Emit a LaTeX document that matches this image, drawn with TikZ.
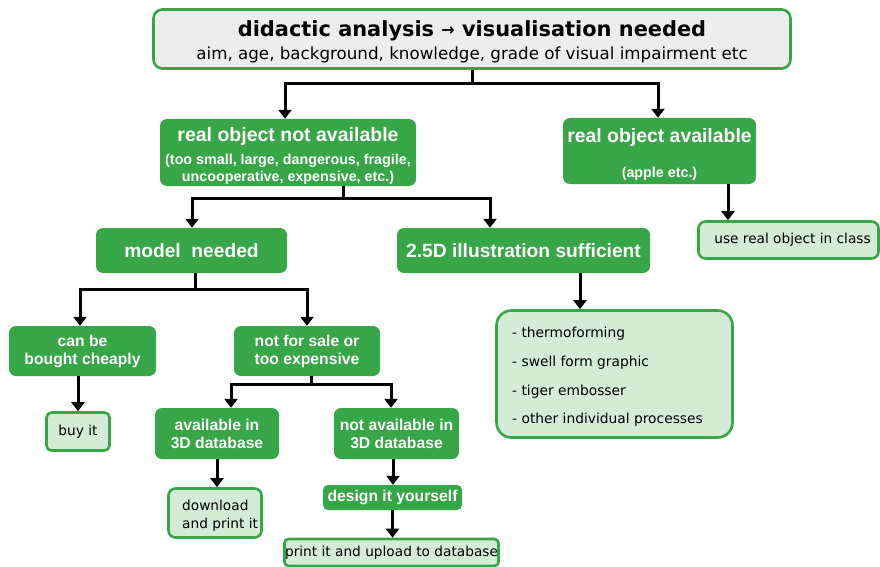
\documentclass[tikz,border=0pt]{standalone}
\usepackage{fontspec}
\setmainfont{Liberation Sans}
\newfontfamily\dv{DejaVu Sans}
\usetikzlibrary{arrows.meta}
\definecolor{dg}{HTML}{36A646}
\definecolor{lg}{HTML}{D4ECD6}
\definecolor{tg}{HTML}{EDEDED}
\newcommand{\fs}[2]{\fontsize{#1}{#2}\selectfont}
\begin{document}
\begin{tikzpicture}[x=1pt,y=-1pt,
  gbox/.style={fill=dg, rounded corners=7pt, text=white, inner sep=0pt, align=center},
  lbox/.style={fill=lg, draw=dg, line width=2.6pt, rounded corners=7pt, text=black, inner sep=0pt, align=center},
  txt/.style={inner sep=0pt, align=center},
  conn/.style={line width=3pt, draw=black},
  arr/.style={conn, -{Triangle[width=13pt,length=9pt]}}]
\useasboundingbox (0,0) rectangle (880,567);
% title
\node[lbox, fill=tg, rounded corners=9pt, minimum width=637pt, minimum height=59pt] (title) at (472,39) {};
\node[txt, font=\dv\fs{16.7}{23}] (title-t) at ([yshift=-2.5pt]title.center)
 {{\fs{20.9}{23}\bfseries didactic analysis {\fs{16}{23}\raisebox{1pt}{→}} visualisation needed}\\
  aim, age, background, knowledge, grade of visual impairment etc};
% level 1
\node[gbox, minimum width=256pt, minimum height=67pt] (rona) at (288,152.5) {};
\node[txt, text=white, font=\bfseries\fs{14.3}{17}] (rona-t) at ([yshift=-3pt]rona.center)
 {{\fs{19.5}{20}real object not available}\\[6pt]
  (too small, large, dangerous, fragile,\\
  uncooperative, expensive, etc.)};
\node[gbox, minimum width=193pt, minimum height=66pt] (ra) at (659.5,151) {};
\node[txt, text=white, font=\bfseries\fs{14.3}{17}] (ra-t) at ([yshift=-3pt]ra.center)
 {{\fs{19.4}{20}real object available}\\[18pt]
  (apple etc.)};
\node[lbox, minimum width=180pt, minimum height=37pt, font=\dv\fs{13.7}{16}] (use) at (788.5,240)
 {\hspace*{8pt}use real object in class};
% level 2
\node[gbox, minimum width=191pt, minimum height=45pt, font=\bfseries\fs{19.2}{20}] (model) at (191.5,250.5)
 {model\ \ needed};
\node[gbox, minimum width=253pt, minimum height=45pt, font=\bfseries\fs{19.2}{20}] (ill) at (523.5,250.5)
 {2.5D illustration sufficient};
\node[lbox, rounded corners=15pt, minimum width=236pt, minimum height=127pt] (list) at (614.5,374) {};
\node[anchor=west, align=left, inner sep=0pt, font=\dv\fs{13.8}{28.7}] (list-t) at (512,377)
 {- thermoforming\\- swell form graphic\\- tiger embosser\\- other individual processes};
% level 3
\node[gbox, minimum width=147pt, minimum height=50pt, font=\bfseries\fs{15.7}{18}] (cheap) at (82.5,351)
 {can be\\bought cheaply};
\node[gbox, minimum width=146pt, minimum height=50pt, font=\bfseries\fs{15.7}{18}] (sale) at (307,351)
 {not for sale or\\too expensive};
\node[lbox, rounded corners=5pt, minimum width=63pt, minimum height=38pt, font=\dv\fs{13.7}{16}] (buy) at (78,431.5)
 {buy it};
% level 4
\node[gbox, minimum width=124pt, minimum height=51pt, font=\bfseries\fs{15.7}{18}] (avail) at (217,433.5)
 {available in\\3D database};
\node[gbox, minimum width=125pt, minimum height=51pt, font=\bfseries\fs{15.7}{18}] (navail) at (396.5,433.5)
 {not available in\\3D database};
\node[lbox, minimum width=93pt, minimum height=49pt] (down) at (215,513) {};
\node[anchor=west, align=left, inner sep=0pt, font=\dv\fs{13.7}{18}] (down-t) at (182,515.5)
 {download\\and print it};
\node[gbox, rounded corners=5pt, minimum width=139pt, minimum height=25pt, font=\bfseries\fs{15.7}{18}] (design) at (392.5,497.5)
 {design it yourself};
\node[lbox, rounded corners=4pt, minimum width=214pt, minimum height=27pt, font=\dv\fs{13.7}{16}] (print) at (391.5,552.5)
 {print it and upload to database};
% junction coordinates
\coordinate (j1) at (472,84);
\coordinate (j2) at (343,198);
\coordinate (j3) at (195,289);
\coordinate (j4) at (311,384);
\coordinate (rasrc) at (728,184);
\coordinate (l2a) at (192,198);
\coordinate (l2b) at (490,198);
\coordinate (l3a) at (80,289);
\coordinate (l4a) at (231,384);
\coordinate (l4b) at (391,384);
% connectors
\draw[conn] (title.south) -- (j1);
\draw[arr] (j1) -| ([xshift=-3pt]rona.north);
\draw[arr] (j1) -| ([xshift=-1.5pt]ra.north);
\draw[conn] (j2 |- rona.south) -- (j2);
\draw[arr] (j2) -- (l2a) -- (l2a |- model.north);
\draw[arr] (j2) -- (l2b) -- (l2b |- ill.north);
\draw[arr] (rasrc) -- (rasrc |- use.north);
\draw[conn] (j3 |- model.south) -- (j3);
\draw[arr] (j3) -- (l3a) -- (l3a |- cheap.north);
\draw[arr] (j3) -| (sale.north);
\draw[arr] ([xshift=-4.5pt]cheap.south) -- ([xshift=-4.5pt]cheap.south |- buy.north);
\draw[arr] ([xshift=56.5pt]ill.south) -- ([xshift=56.5pt]ill.south |- list.north);
\draw[conn] (j4 |- sale.south) -- (j4);
\draw[arr] (j4) -- (l4a) -- (l4a |- avail.north);
\draw[arr] (j4) -- (l4b) -- (l4b |- navail.north);
\draw[arr] (avail.south) -- (avail.south |- down.north);
\draw[arr] ([xshift=-3.5pt]navail.south) -- ([xshift=-3.5pt]navail.south |- design.north);
\draw[arr] (design.south) -- (design.south |- print.north);
\end{tikzpicture}
\end{document}
